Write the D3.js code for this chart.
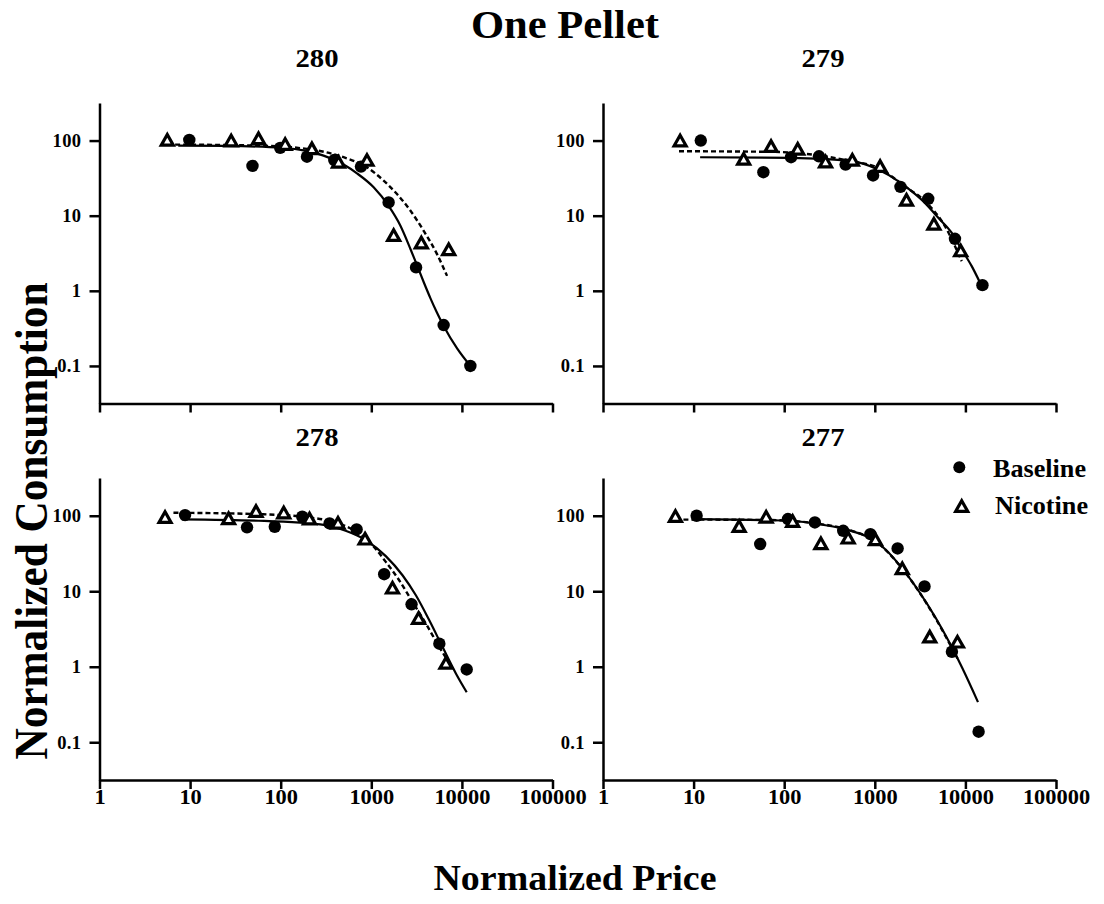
<!DOCTYPE html>
<html>
<head>
<meta charset="utf-8">
<script src="https://cdn.jsdelivr.net/npm/d3@7"></script>
<style>
  body { margin: 0; background: #fff; }
  text { font-family: "Liberation Serif", "DejaVu Serif", serif; font-weight: bold; fill: #000; }
</style>
</head>
<body>
<svg id="chart" width="1104" height="904"></svg>
<script>
// ---- Subjects ----
const subjects = ["280", "279", "278", "277"];

// ---- Subject 280: observed points ----
const price280Base = [9.8, 48.8, 98.7, 195, 390, 769, 1553, 3120, 6290, 12400];
const cons280Base  = [102, 46, 80, 61, 55, 45, 15, 2.05, 0.35, 0.1];
const price280Nic  = [5.6, 28.4, 56.9, 112, 221, 435, 896, 1765, 3566, 7150];
const cons280Nic   = [100, 98, 105, 88, 77, 51, 54, 5.4, 4.3, 3.5];
// fitted demand curves
const fit280BaseX = [7.4, 25, 107, 297, 494, 695, 1062, 1553, 2090, 2697, 3120, 3784, 4487, 5315, 6290, 8850, 12400];
const fit280BaseY = [85.8, 85, 79.8, 63, 47.9, 36.6, 23.9, 13.5, 7.4, 3.63, 2.35, 1.31, 0.80, 0.51, 0.34, 0.171, 0.1];
const fit280NicX  = [6.83, 54.6, 195, 494, 896, 1368, 1922, 2697, 3784, 5315, 6860];
const fit280NicY  = [88.4, 85.8, 77.4, 60, 44, 29.3, 19.4, 11.7, 6.3, 3.08, 1.58];

// ---- Subject 279 ----
const price279Base = [12, 58.9, 119, 242, 476, 957, 1920, 3890, 7670, 15420];
const cons279Base  = [100, 37.9, 60, 61.8, 48, 34.3, 24.2, 16.8, 4.93, 1.19];
const price279Nic  = [7.1, 35.7, 71.6, 141, 286, 565, 1145, 2238, 4490, 8870];
const cons279Nic   = [98, 55.9, 82.5, 76, 51.4, 54.2, 44.7, 15.9, 7.64, 3.37];
const fit279BaseX = [11.8, 119, 551, 1087, 1811, 2544, 3571, 5019, 7050, 9100, 11740, 14520];
const fit279BaseY = [60, 58.9, 53.1, 41.1, 28.8, 21.2, 14.8, 9.37, 5.93, 3.55, 2.13, 1.28];
const fit279NicX  = [6.9, 71.6, 279, 551, 1087, 2143, 3571, 5946, 9100];
const fit279NicY  = [72.1, 70.8, 61.8, 53.1, 43.4, 24.6, 15.6, 7.24, 2.48];

// ---- Subject 278 ----
const price278Base = [8.8, 42.5, 86, 173, 346, 689, 1387, 2781, 5636, 11300];
const cons278Base  = [102, 70.2, 71.5, 97, 79, 65.9, 16.8, 6.72, 2.02, 0.92];
const price278Nic  = [5.29, 26.6, 53.4, 108, 208, 429, 853, 1714, 3325, 6670];
const cons278Nic   = [94, 90.4, 113, 108, 89.6, 79, 48.6, 10.9, 4.33, 1.1];
const fit278BaseX = [8.09, 57.2, 313, 521, 867, 1445, 2210, 3104, 4365, 6125, 8610, 11300];
const fit278BaseY = [89.6, 85.8, 75.2, 63.2, 47.6, 29.2, 16.3, 8.84, 4.12, 1.82, 0.81, 0.46];
const fit278NicX  = [6.55, 57.2, 205, 618, 1028, 1445, 2030, 2853, 4006, 5636, 6960];
const fit278NicY  = [109.6, 105, 95.2, 65.9, 40.8, 24.5, 14, 7.2, 3.72, 1.82, 1.21];

// ---- Subject 277 ----
const price277Base = [10.8, 54.3, 110, 218, 448, 894, 1786, 3540, 7100, 13990];
const cons277Base  = [100, 42.2, 90.4, 81.5, 63.2, 57.1, 36.9, 11.6, 1.58, 0.138];
const price277Nic  = [6.3, 31.8, 63.2, 124, 254, 508, 1016, 2010, 4040, 8170];
const cons277Nic   = [97, 71.5, 95, 83.3, 42.2, 50.1, 47.7, 19.7, 2.45, 2.1];
const fit277BaseX = [10.5, 113, 265, 523, 1016, 1312, 2004, 3064, 4693, 6870, 9240, 13770];
const fit277BaseY = [90.4, 85.8, 76, 64, 46, 35.7, 20.1, 10, 4.45, 1.95, 0.96, 0.34];
const fit277NicX  = [6.3, 63, 265, 523, 1016, 2004, 4040, 8170];
const fit277NicY  = [89, 88, 77, 64.5, 46, 20, 5.9, 1.29];

// ---- Axis ticks ----
const xTickValues = [1, 10, 100, 1000, 10000, 100000];
const xTickLabels = ["1", "10", "100", "1000", "10000", "100000"];
const yTickValues = [0.1, 1, 10, 100];
const yTickLabels = ["0.1", "1", "10", "100"];

// ---- Legend ----
const seriesNames = ["Baseline", "Nicotine"];

// Assemble per-panel records from the arrays above
const zip = (xs, ys) => xs.map((v, i) => ({ p: v, c: ys[i] }));
const panelData = {
  "280": { base: zip(price280Base, cons280Base), nic: zip(price280Nic, cons280Nic),
           fitBase: zip(fit280BaseX, fit280BaseY), fitNic: zip(fit280NicX, fit280NicY) },
  "279": { base: zip(price279Base, cons279Base), nic: zip(price279Nic, cons279Nic),
           fitBase: zip(fit279BaseX, fit279BaseY), fitNic: zip(fit279NicX, fit279NicY) },
  "278": { base: zip(price278Base, cons278Base), nic: zip(price278Nic, cons278Nic),
           fitBase: zip(fit278BaseX, fit278BaseY), fitNic: zip(fit278NicX, fit278NicY) },
  "277": { base: zip(price277Base, cons277Base), nic: zip(price277Nic, cons277Nic),
           fitBase: zip(fit277BaseX, fit277BaseY), fitNic: zip(fit277NicX, fit277NicY) }
};

// ---- Layout ----
const svg = d3.select("#chart");
const colRange = [[99.5, 552.5], [603, 1056]];
const rowRange = [[103, 403.5], [478, 780]];
const titleX = [317, 823];
const titleY = [66.5, 445.5];

// open triangle marker, heavy outline
const trianglePath = "M0,-6L6,4.6L-6,4.6Z";
const triStroke = 3.2;

subjects.forEach((id, k) => {
  const col = k % 2, row = Math.floor(k / 2);
  const [x0, x1] = colRange[col];
  const [y0, y1] = rowRange[row];
  const d = panelData[id];

  const x = d3.scaleLog().domain([1, 1e5]).range([x0, x1]);
  const y = d3.scaleLog().domain([Math.pow(10, -1.5), Math.pow(10, 2.5)]).range([y1, y0]);

  const g = svg.append("g");

  // panel title
  g.append("text")
    .attr("x", titleX[col]).attr("y", titleY[row])
    .attr("text-anchor", "middle")
    .attr("font-size", 26)
    .attr("textLength", 43).attr("lengthAdjust", "spacingAndGlyphs")
    .text(id);

  // x axis
  const xa = g.append("g")
    .attr("transform", `translate(0,${y1})`)
    .call(d3.axisBottom(x).tickValues(xTickValues).tickSize(9).tickSizeOuter(0).tickPadding(1)
      .tickFormat((v, i) => row === 1 ? xTickLabels[i] : ""));
  xa.selectAll("text")
    .attr("font-size", 20)
    .attr("fill", "#000")
    .style("font-family", '"Liberation Serif", serif')
    .style("font-weight", "bold")
    .attr("textLength", (v, i) => xTickLabels[i].length * 11.2)
    .attr("lengthAdjust", "spacingAndGlyphs");

  // y axis
  const ya = g.append("g")
    .attr("transform", `translate(${x0},0)`)
    .call(d3.axisLeft(y).tickValues(yTickValues).tickSize(10).tickSizeOuter(0).tickPadding(8)
      .tickFormat((v, i) => yTickLabels[i]));
  ya.selectAll("text")
    .attr("font-size", 18.5)
    .attr("fill", "#000")
    .style("font-family", '"Liberation Serif", serif')
    .style("font-weight", "bold")
    .style("letter-spacing", "0.4px");

  [xa, ya].forEach(a => {
    a.select(".domain").attr("stroke", "#000").attr("stroke-width", 2.5);
    a.selectAll(".tick line").attr("stroke", "#000").attr("stroke-width", 2.5);
  });

  // fitted curves
  const line = d3.line()
    .x(p => x(p.p)).y(p => y(p.c))
    .curve(d3.curveMonotoneX);

  g.append("path").datum(d.fitBase)
    .attr("d", line)
    .attr("fill", "none").attr("stroke", "#000").attr("stroke-width", 2.2);

  g.append("path").datum(d.fitNic)
    .attr("d", line)
    .attr("fill", "none").attr("stroke", "#000").attr("stroke-width", 2.4)
    .attr("stroke-dasharray", "5,3");

  // baseline points
  g.selectAll("circle.base").data(d.base).join("circle")
    .attr("class", "base")
    .attr("cx", p => x(p.p)).attr("cy", p => y(p.c))
    .attr("r", 6.2).attr("fill", "#000");

  // nicotine points
  g.selectAll("path.nic").data(d.nic).join("path")
    .attr("class", "nic")
    .attr("d", trianglePath)
    .attr("transform", p => `translate(${x(p.p)},${y(p.c)})`)
    .attr("fill", "#fff").attr("stroke", "#000")
    .attr("stroke-width", triStroke).attr("stroke-linejoin", "miter");
});

// ---- Figure titles ----
svg.append("text")
  .attr("x", 565).attr("y", 37.5)
  .attr("text-anchor", "middle")
  .attr("font-size", 40)
  .attr("textLength", 188).attr("lengthAdjust", "spacingAndGlyphs")
  .text("One Pellet");

svg.append("text")
  .attr("x", 575).attr("y", 890)
  .attr("text-anchor", "middle")
  .attr("font-size", 36)
  .attr("textLength", 283).attr("lengthAdjust", "spacingAndGlyphs")
  .text("Normalized Price");

svg.append("text")
  .attr("transform", "translate(47,521) rotate(-90)")
  .attr("text-anchor", "middle")
  .attr("font-size", 47)
  .attr("textLength", 477).attr("lengthAdjust", "spacingAndGlyphs")
  .text("Normalized Consumption");

// ---- Legend ----
const legend = svg.append("g");
legend.append("circle").attr("cx", 959.3).attr("cy", 467.3).attr("r", 6).attr("fill", "#000");
legend.append("path").attr("d", trianglePath)
  .attr("transform", "translate(961.7,506.7)")
  .attr("fill", "#fff").attr("stroke", "#000").attr("stroke-width", triStroke);
legend.append("text").attr("x", 993).attr("y", 476.5)
  .attr("font-size", 26).attr("textLength", 93).attr("lengthAdjust", "spacingAndGlyphs")
  .text(seriesNames[0]);
legend.append("text").attr("x", 995).attr("y", 514)
  .attr("font-size", 26).attr("textLength", 93).attr("lengthAdjust", "spacingAndGlyphs")
  .text(seriesNames[1]);
</script>
</body>
</html>
